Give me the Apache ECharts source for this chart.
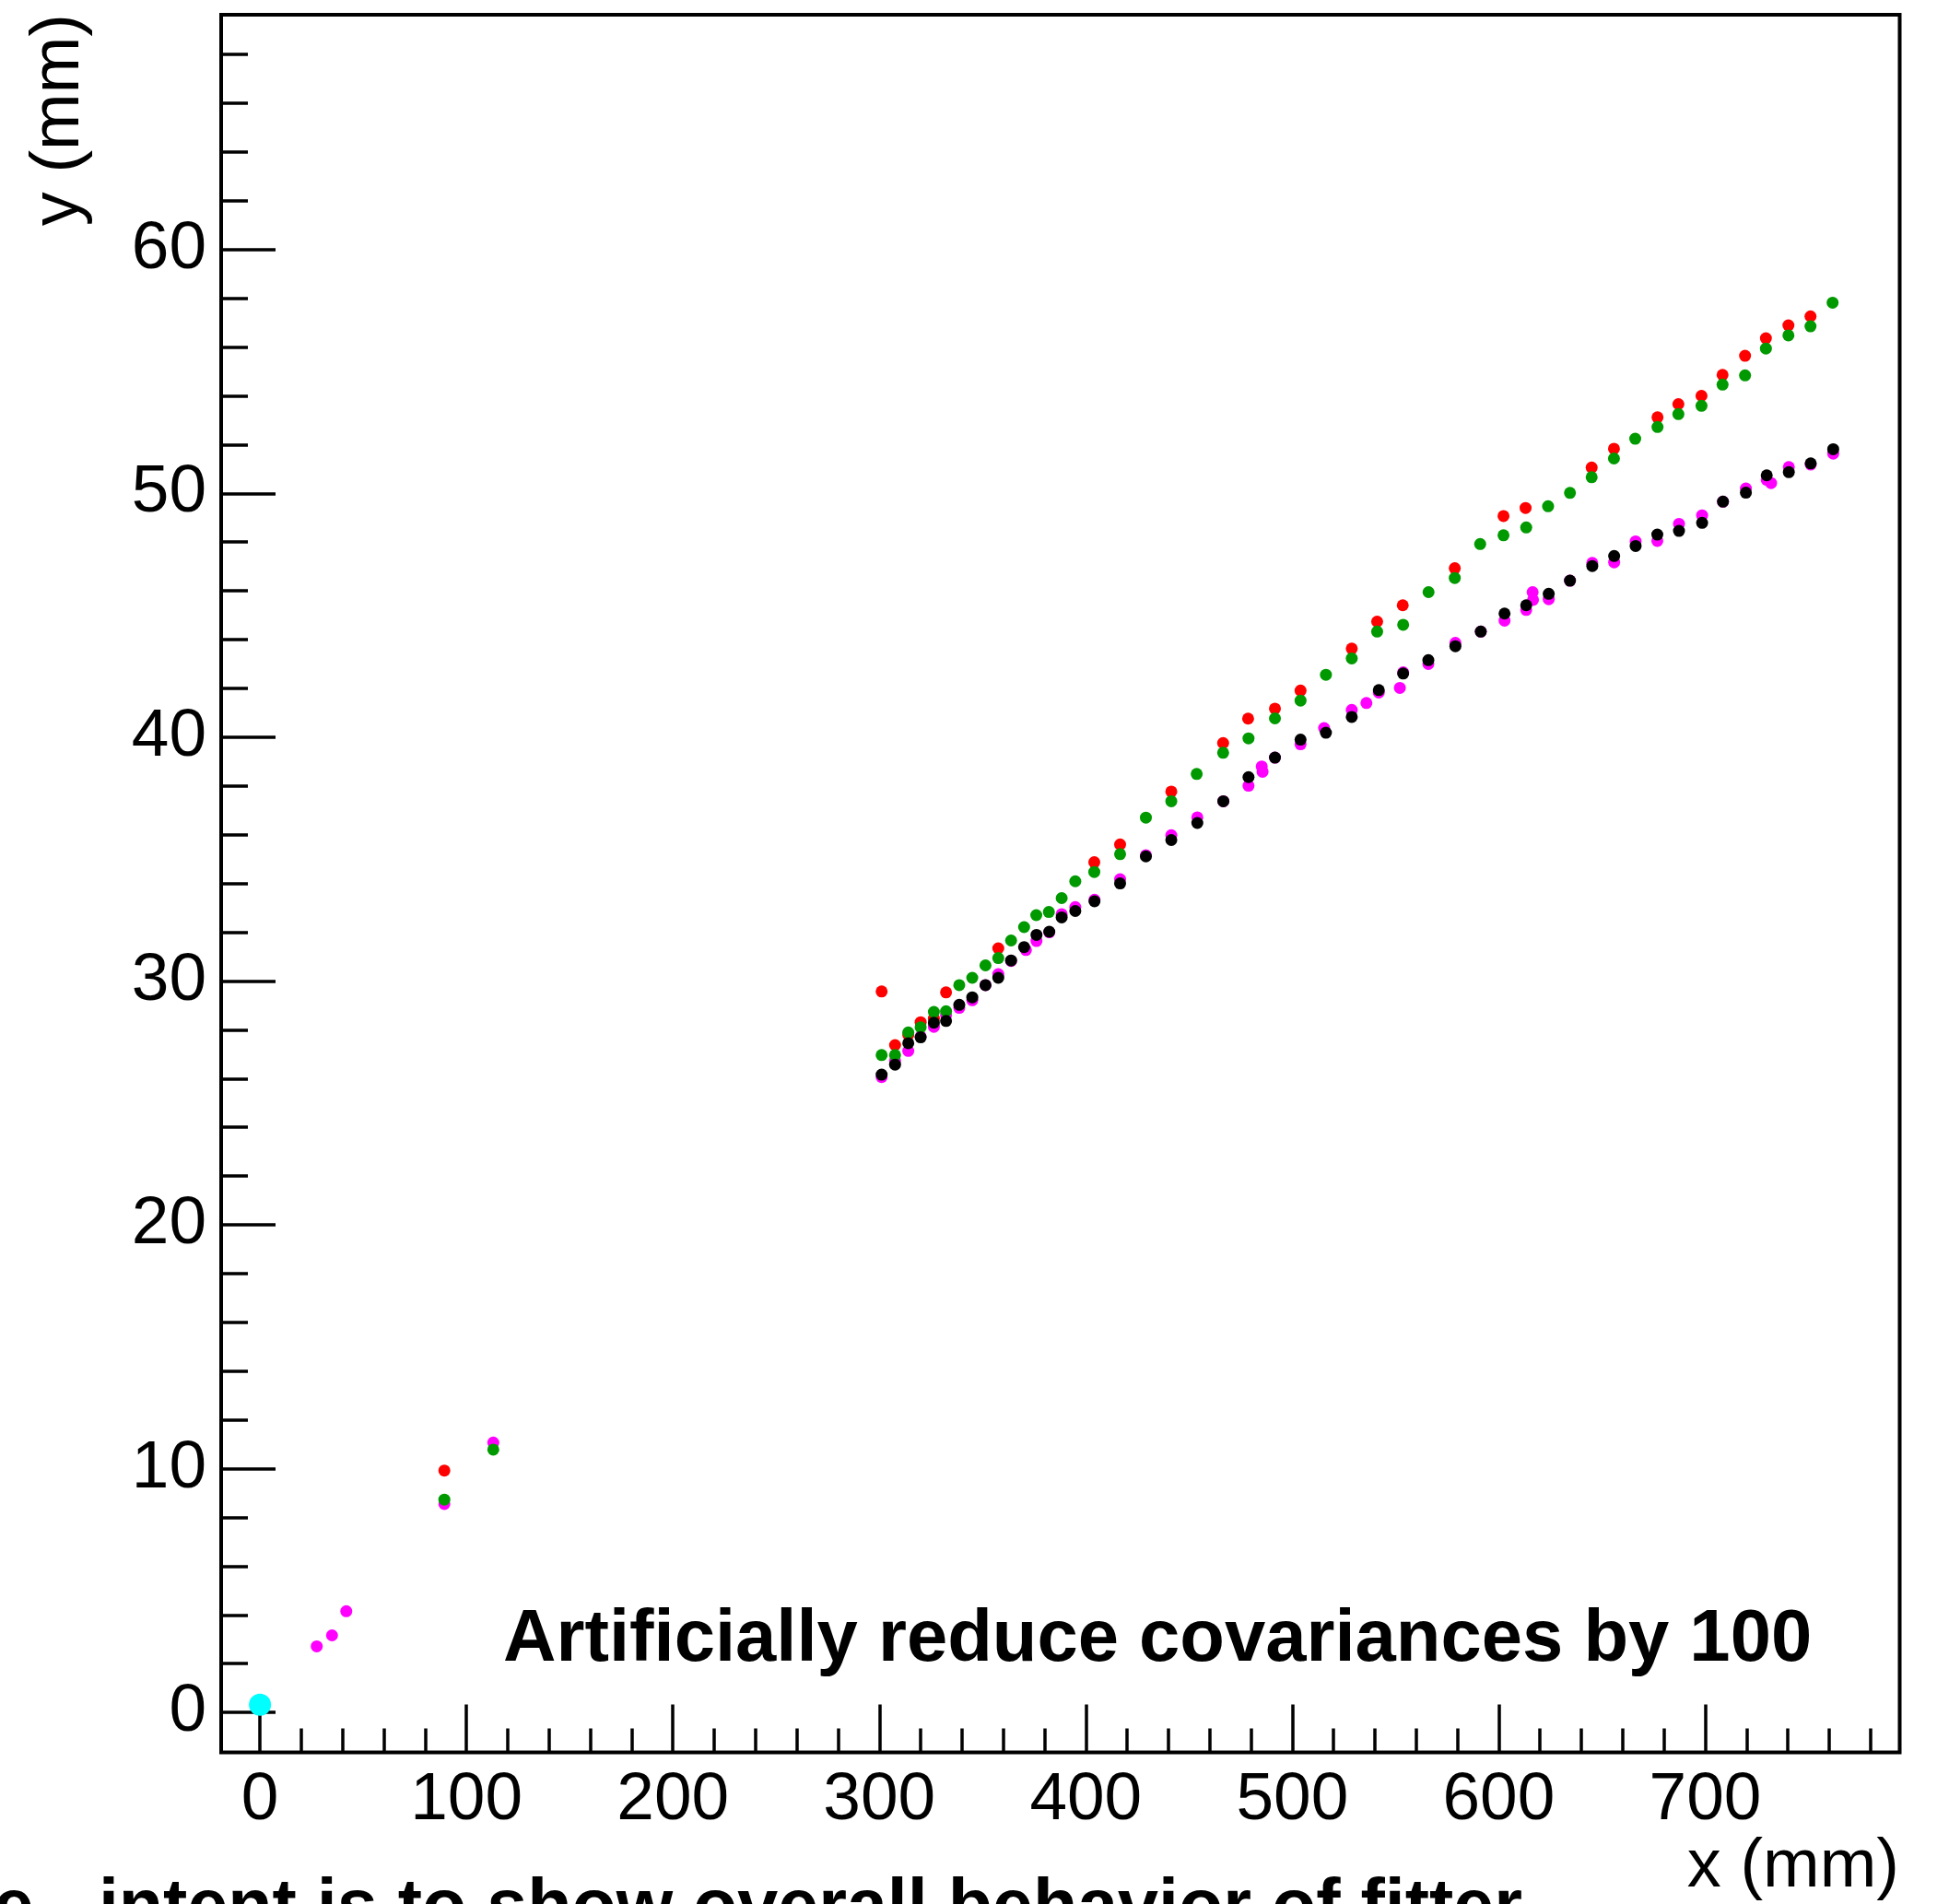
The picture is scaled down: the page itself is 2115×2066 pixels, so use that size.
<!DOCTYPE html>
<html>
<head>
<meta charset="utf-8">
<title>Fit behaviour</title>
<script src="https://cdn.jsdelivr.net/npm/echarts@6/dist/echarts.min.js"></script>
<style>
  html, body { margin: 0; padding: 0; background: #fff; }
  #chart { width: 2115px; height: 2066px; }
</style>
</head>
<body>
<div id="chart"></div>
<script>
// ---- axis ranges and ticks ----
const xRange = [-18.8, 794.2];
const yRange = [-1.64, 69.63];
const xMajorTicks = [0, 100, 200, 300, 400, 500, 600, 700];
const xMinorTicks = [20, 40, 60, 80, 120, 140, 160, 180, 220, 240, 260, 280, 320, 340, 360, 380, 420, 440, 460, 480, 520, 540, 560, 580, 620, 640, 660, 680, 720, 740, 760, 780];
const yMajorTicks = [0, 10, 20, 30, 40, 50, 60];
const yMinorTicks = [2, 4, 6, 8, 12, 14, 16, 18, 22, 24, 26, 28, 32, 34, 36, 38, 42, 44, 46, 48, 52, 54, 56, 58, 62, 64, 66, 68];

// ---- texts ----
const xTitle = 'x (mm)';
const yTitle = 'y (mm)';
const annotation = 'Artificially reduce covariances by 100';
const footnote = 'Reduced covariance - intent is to show overall behavior of fitter';

// ---- data (x mm, y mm) ----
const originPoint = [[0, 0.32]];

const magentaPoints = [
  [27.5, 2.71], [34.9, 3.16], [41.8, 4.15], [89.3, 8.55], [113.0, 11.07],
  [301.1, 26.06], [307.6, 26.73], [314.0, 27.13], [320.0, 27.72], [326.4, 28.12], [332.3, 28.60],
  [338.7, 28.90], [345.0, 29.21], [351.4, 29.83], [357.6, 30.28], [363.8, 30.82], [371.0, 31.27],
  [376.1, 31.64], [382.3, 32.00], [388.3, 32.74], [394.9, 33.03], [404.2, 33.33], [416.6, 34.17],
  [429.1, 35.16], [441.4, 35.98], [454.0, 36.71], [466.6, 37.37], [478.8, 38.01], [485.2, 38.80],
  [485.6, 38.58], [491.6, 39.16], [504.0, 39.71], [515.4, 40.37], [528.8, 41.12], [535.9, 41.40],
  [541.9, 41.83], [552.1, 42.02], [553.7, 42.66], [565.9, 43.00], [579.0, 43.87], [591.3, 44.33],
  [602.8, 44.78], [613.3, 45.22], [616.4, 45.95], [616.6, 45.63], [624.2, 45.66], [634.5, 46.42],
  [645.3, 47.15], [655.9, 47.17], [666.3, 48.03], [676.8, 48.05], [687.3, 48.75], [698.5, 49.10],
  [708.6, 49.66], [719.7, 50.20], [729.8, 50.55], [731.9, 50.42], [740.5, 51.08], [751.1, 51.18],
  [762.0, 51.63]
];

const redPoints = [
  [89.3, 9.92], [301.1, 29.57], [307.6, 27.37], [314.0, 27.79], [320.0, 28.31], [326.4, 28.46],
  [332.3, 29.53], [357.6, 31.34], [404.1, 34.87], [416.6, 35.60], [441.4, 37.77], [466.5, 39.76],
  [478.6, 40.76], [491.6, 41.17], [504.0, 41.91], [528.8, 43.63], [541.1, 44.74], [553.5, 45.41],
  [578.7, 46.93], [602.3, 49.07], [613.0, 49.40], [645.0, 51.06], [655.8, 51.83], [676.9, 53.12],
  [687.0, 53.66], [698.2, 54.00], [708.4, 54.86], [719.3, 55.64], [729.4, 56.36], [740.3, 56.89],
  [751.0, 57.26]
];

const greenPoints = [
  [89.3, 8.73], [113.0, 10.78], [301.1, 26.96], [307.6, 26.96], [314.0, 27.89], [320.0, 28.10],
  [326.4, 28.73], [332.3, 28.76], [338.7, 29.83], [345.0, 30.13], [351.4, 30.64], [357.6, 30.94],
  [363.8, 31.66], [370.1, 32.21], [376.0, 32.70], [382.1, 32.83], [388.3, 33.40], [394.9, 34.09],
  [404.1, 34.47], [416.6, 35.20], [429.1, 36.70], [441.4, 37.37], [453.7, 38.49], [466.5, 39.36],
  [478.8, 39.95], [491.6, 40.77], [504.0, 41.50], [516.3, 42.56], [528.8, 43.23], [541.1, 44.33],
  [553.7, 44.61], [566.0, 45.95], [578.7, 46.53], [591.0, 47.92], [602.3, 48.28], [613.3, 48.60],
  [623.9, 49.47], [634.5, 50.02], [645.0, 50.66], [655.8, 51.43], [666.1, 52.24], [676.9, 52.72],
  [687.0, 53.25], [698.2, 53.59], [708.4, 54.46], [719.3, 54.84], [729.4, 55.94], [740.3, 56.48],
  [751.0, 56.85], [761.7, 57.82]
];

const blackPoints = [
  [301.1, 26.16], [307.6, 26.57], [314.0, 27.45], [320.0, 27.69], [326.4, 28.29], [332.3, 28.36],
  [338.7, 29.02], [345.0, 29.33], [351.4, 29.83], [357.6, 30.13], [363.8, 30.84], [370.1, 31.39],
  [376.1, 31.89], [382.3, 32.02], [388.3, 32.61], [394.9, 32.87], [404.2, 33.27], [416.6, 34.00],
  [429.1, 35.11], [441.4, 35.78], [454.0, 36.48], [466.6, 37.37], [478.8, 38.36], [491.6, 39.16],
  [504.0, 39.90], [516.3, 40.18], [528.8, 40.83], [541.9, 41.93], [553.7, 42.61], [565.9, 43.16],
  [579.0, 43.73], [591.3, 44.33], [602.8, 45.07], [613.3, 45.41], [624.2, 45.88], [634.5, 46.42],
  [645.3, 47.02], [655.9, 47.43], [666.3, 47.84], [676.8, 48.31], [687.3, 48.46], [698.5, 48.79],
  [708.6, 49.66], [719.7, 50.03], [729.8, 50.74], [740.5, 50.87], [751.1, 51.23], [762.0, 51.81]
];

// ---- chart ----
const FONT = "'Liberation Sans', Arial, Helvetica, sans-serif";
const chart = echarts.init(document.getElementById('chart'), null, { renderer: 'canvas' });

function dotSeries(name, data, color, size) {
  return {
    name: name,
    type: 'scatter',
    xAxisIndex: 0,
    yAxisIndex: 0,
    data: data,
    symbol: 'circle',
    symbolSize: size,
    itemStyle: { color: color, opacity: 1 },
    emphasis: { disabled: true },
    silent: true
  };
}

function tickStyle(len, values) {
  return { show: true, inside: true, length: len, customValues: values,
           lineStyle: { color: '#000', width: 3.5 } };
}

const option = {
  animation: false,
  backgroundColor: '#ffffff',
  grid: {
    left: 240, top: 16, width: 1821.5, height: 1885.5,
    show: true, borderColor: '#000', borderWidth: 4, backgroundColor: 'transparent'
  },
  xAxis: [
    {
      type: 'value', min: xRange[0], max: xRange[1], position: 'bottom',
      axisLine: { show: false, onZero: false },
      splitLine: { show: false },
      axisTick: tickStyle(52, xMajorTicks),
      axisLabel: { show: true, customValues: xMajorTicks, margin: 16,
                   fontFamily: FONT, fontSize: 73, color: '#000' }
    },
    {
      type: 'value', min: xRange[0], max: xRange[1], position: 'bottom',
      axisLine: { show: false, onZero: false },
      splitLine: { show: false },
      axisTick: tickStyle(26, xMinorTicks),
      axisLabel: { show: false }
    }
  ],
  yAxis: [
    {
      type: 'value', min: yRange[0], max: yRange[1], position: 'left',
      axisLine: { show: false, onZero: false },
      splitLine: { show: false },
      axisTick: tickStyle(59, yMajorTicks),
      axisLabel: { show: true, customValues: yMajorTicks, margin: 16,
                   fontFamily: FONT, fontSize: 73, color: '#000' }
    },
    {
      type: 'value', min: yRange[0], max: yRange[1], position: 'left',
      axisLine: { show: false, onZero: false },
      splitLine: { show: false },
      axisTick: tickStyle(29, yMinorTicks),
      axisLabel: { show: false }
    }
  ],
  series: [
    dotSeries('magenta', magentaPoints, '#ff00ff', 13),
    dotSeries('red', redPoints, '#ff0000', 13),
    dotSeries('green', greenPoints, '#009900', 13),
    dotSeries('black', blackPoints, '#000000', 13),
    dotSeries('origin', originPoint, '#00ffff', 24)
  ],
  graphic: [
    {
      type: 'text', x: 2061, y: 2027, silent: true,
      style: { text: xTitle, fontFamily: FONT, fontSize: 74, fill: '#000',
               align: 'right', verticalAlign: 'middle', textAlign: 'right', textVerticalAlign: 'middle' }
    },
    {
      type: 'text', x: 65, y: 15, rotation: Math.PI / 2, silent: true,
      style: { text: yTitle, fontFamily: FONT, fontSize: 74, fill: '#000',
               align: 'right', verticalAlign: 'middle', textAlign: 'right', textVerticalAlign: 'middle' }
    },
    {
      type: 'text', x: 546, y: 1780, silent: true,
      style: { text: annotation, fontFamily: FONT, fontWeight: 'bold', fontSize: 79.6, fill: '#000',
               align: 'left', verticalAlign: 'middle', textAlign: 'left', textVerticalAlign: 'middle' }
    },
    {
      type: 'text', x: 1652, y: 2072, silent: true,
      style: { text: footnote, fontFamily: FONT, fontWeight: 'bold', fontSize: 79, fill: '#000',
               align: 'right', verticalAlign: 'middle', textAlign: 'right', textVerticalAlign: 'middle' }
    }
  ]
};

chart.setOption(option);
</script>
</body>
</html>
